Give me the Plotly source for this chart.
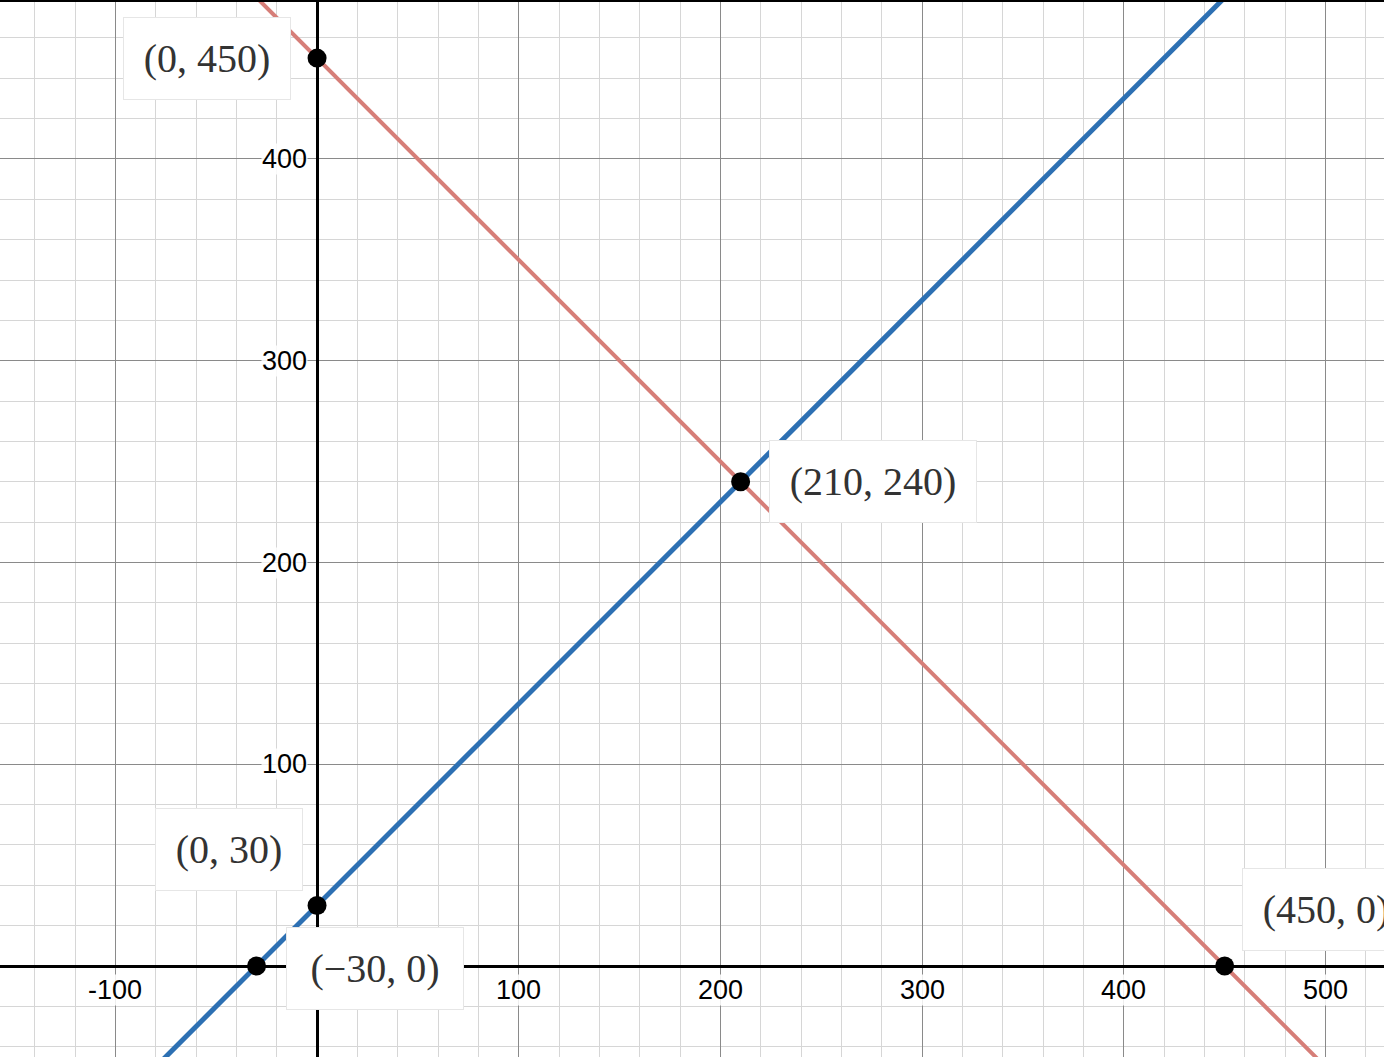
import plotly.graph_objects as go

# Two lines: red y = 450 - x, blue y = x + 30 (endpoints beyond the view)
RED_X = [-200, 600]
RED_Y = [650, -150]
BLUE_X = [-200, 600]
BLUE_Y = [-170, 630]

# Labelled points
POINT_X = [0, 210, 0, -30, 450]
POINT_Y = [450, 240, 30, 0, 0]
POINT_TEXT = ["(0, 450)", "(210, 240)", "(0, 30)", "(\u221230, 0)", "(450, 0)"]

# Axis tick labels
X_TICKS = [-100, 100, 200, 300, 400, 500]
X_TICK_TEXT = ["-100", "100", "200", "300", "400", "500"]
Y_TICKS = [100, 200, 300, 400]
Y_TICK_TEXT = ["100", "200", "300", "400"]

# label box placement: (xanchor, yanchor, xshift, yshift, box width)
PLACEMENT = [
    ("right", "middle", -26, 0, 168),
    ("left", "middle", 28, 0, 208),
    ("right", "bottom", -14, 14, 148),
    ("left", "middle", 29, -2, 178),
    ("left", "bottom", 17, 15, 168),
]

fig = go.Figure()

fig.add_trace(go.Scatter(
    x=RED_X, y=RED_Y, mode="lines",
    line=dict(color="#d67e78", width=4), hoverinfo="skip",
))
fig.add_trace(go.Scatter(
    x=BLUE_X, y=BLUE_Y, mode="lines",
    line=dict(color="#2d70b3", width=5), hoverinfo="skip",
))
fig.add_trace(go.Scatter(
    x=POINT_X, y=POINT_Y, mode="markers",
    marker=dict(color="black", size=19), hoverinfo="skip",
))

# point labels (white boxes)
for px, py, txt, (xa, ya, xs, ys, w) in zip(POINT_X, POINT_Y, POINT_TEXT, PLACEMENT):
    fig.add_annotation(
        x=px, y=py, text=txt, showarrow=False,
        xanchor=xa, yanchor=ya, xshift=xs, yshift=ys,
        width=w - 10, height=73, borderpad=4,
        bgcolor="white", bordercolor="#e6e6e6", borderwidth=1,
        font=dict(family="Liberation Serif", size=40, color="#333333"),
    )

# tick labels sitting next to the axes
for v, t in zip(X_TICKS, X_TICK_TEXT):
    fig.add_annotation(
        x=v, y=0, text=t, showarrow=False, yanchor="middle", yshift=-24,
        bgcolor="rgba(255,255,255,0.85)", borderpad=0,
        font=dict(family="Liberation Sans, Arial", size=27, color="black"),
    )
for v, t in zip(Y_TICKS, Y_TICK_TEXT):
    fig.add_annotation(
        x=0, y=v, text=t, showarrow=False, xanchor="right", xshift=-9,
        bgcolor="rgba(255,255,255,0.85)", borderpad=0,
        font=dict(family="Liberation Sans, Arial", size=27, color="black"),
    )

# top border
fig.add_shape(type="line", xref="paper", yref="paper", x0=0, x1=1, y0=1, y1=1,
              line=dict(color="black", width=4))

axis_common = dict(
    showticklabels=False, ticks="", showline=False,
    showgrid=True, gridcolor="#8a8a8a", gridwidth=1,
    zeroline=True, zerolinecolor="black",
    minor=dict(dtick=20, showgrid=True, gridcolor="#d6d6d6", gridwidth=1),
)

fig.update_layout(
    width=1384, height=1057,
    margin=dict(l=0, r=0, t=0, b=0),
    paper_bgcolor="white", plot_bgcolor="white",
    showlegend=False,
    xaxis=dict(range=[-157.2, 529.0], dtick=100, tick0=0, zerolinewidth=2.5,
               **axis_common),
    yaxis=dict(range=[-45.1, 478.8], dtick=100, tick0=0, zerolinewidth=3,
               **axis_common),
)

fig.write_html(
    "out.html",
    config={"displayModeBar": False},
    post_script="document.body.style.margin='0';document.body.style.overflow='hidden';",
)
